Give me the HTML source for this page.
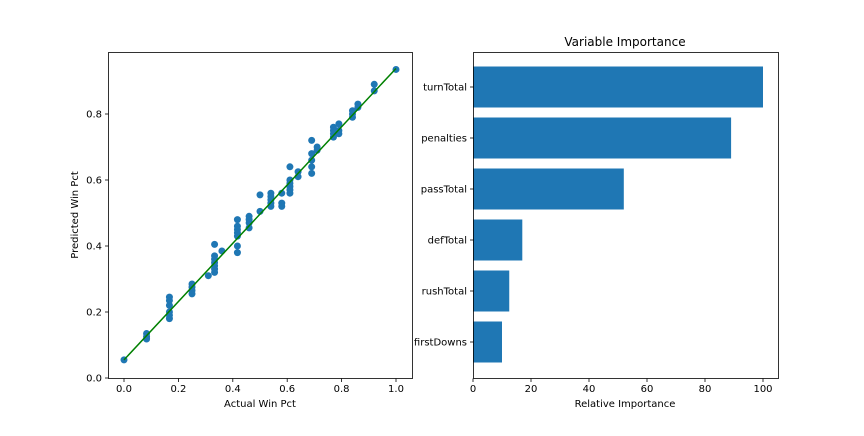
<!DOCTYPE html>
<html><head><meta charset="utf-8"><style>
body{margin:0;background:#fff;font-family:"DejaVu Sans","Liberation Sans",sans-serif;}
svg text{font-family:"DejaVu Sans","Liberation Sans",sans-serif;font-size:10px;fill:#000}
</style></head><body>
<svg id="c" width="864" height="432"></svg>
<script>
const actual=[0,0.083,0.083,0.083,0.167,0.167,0.167,0.167,0.167,0.167,0.25,0.25,0.25,0.25,0.31,0.333,0.333,0.333,0.333,0.333,0.333,0.333,0.36,0.417,0.417,0.417,0.417,0.417,0.417,0.417,0.46,0.46,0.46,0.46,0.5,0.5,0.54,0.54,0.54,0.54,0.54,0.58,0.58,0.58,0.61,0.61,0.61,0.61,0.61,0.61,0.64,0.64,0.69,0.69,0.69,0.69,0.69,0.71,0.71,0.77,0.77,0.77,0.77,0.79,0.79,0.79,0.84,0.84,0.84,0.86,0.86,0.92,0.92,1];
const predicted=[0.055,0.135,0.125,0.118,0.245,0.235,0.22,0.2,0.19,0.18,0.285,0.275,0.265,0.255,0.31,0.405,0.37,0.36,0.35,0.34,0.33,0.32,0.385,0.48,0.46,0.45,0.44,0.43,0.4,0.38,0.49,0.48,0.47,0.455,0.555,0.505,0.56,0.55,0.54,0.53,0.52,0.56,0.53,0.52,0.64,0.6,0.59,0.58,0.57,0.56,0.625,0.61,0.72,0.68,0.66,0.64,0.62,0.7,0.69,0.76,0.75,0.74,0.73,0.77,0.75,0.74,0.81,0.8,0.79,0.83,0.82,0.89,0.87,0.935];
const fitX=[0,1];
const fitY=[0.055,0.938];
const xTicks=[0,0.2,0.4,0.6,0.8,1.0];
const yTicks=[0,0.2,0.4,0.6,0.8];
const features=["turnTotal","penalties","passTotal","defTotal","rushTotal","firstDowns"];
const importance=[100,89,52,17,12.5,10];
const impTicks=[0,20,40,60,80,100];

const svg=document.getElementById('c');const NS="http://www.w3.org/2000/svg";
function mk(t,a,p){const e=document.createElementNS(NS,t);for(const k in a)e.setAttribute(k,a[k]);(p||svg).appendChild(e);return e;}
const L={x0:108,x1:412,y0:52,y1:378};
const sx=v=>124+272*v, sy=v=>378-330*v;
const g1=mk('g',{});


actual.forEach((a,i)=>{const c=mk('circle',{cx:sx(a),cy:sy(predicted[i]),r:3.5,fill:'#1f77b4'},g1);

});
const fl=mk('line',{x1:sx(fitX[0]),y1:sy(fitY[0]),x2:sx(fitX[1]),y2:sy(fitY[1]),stroke:'#008000','stroke-width':1.5},g1);


mk('rect',{x:L.x0+.5,y:L.y0+.5,width:L.x1-L.x0,height:L.y1-L.y0,fill:'none',stroke:'#000','stroke-width':0.8});
xTicks.forEach(v=>{const x=sx(v);mk('line',{x1:x,y1:L.y1+.5,x2:x,y2:L.y1+4,stroke:'#000','stroke-width':.8});
const t=mk('text',{x:x,y:392,'text-anchor':'middle'});t.textContent=v.toFixed(1);

});
yTicks.forEach(v=>{const y=sy(v);mk('line',{x1:L.x0+.5,y1:y,x2:L.x0-3,y2:y,stroke:'#000','stroke-width':.8});
const t=mk('text',{x:L.x0-6,y:y+3.5,'text-anchor':'end'});t.textContent=v.toFixed(1);

});
let t=mk('text',{x:260,y:407,'text-anchor':'middle'});t.textContent='Actual Win Pct';

t=mk('text',{x:78,y:215,'text-anchor':'middle',transform:'rotate(-90 78 215)'});t.textContent='Predicted Win Pct';

const R={x0:473,x1:778,y0:52,y1:378};
const bx=v=>473+2.9*v;
const by=i=>87+51*i;
features.forEach((f,i)=>{const yc=by(i);
const r=mk('rect',{x:R.x0,y:yc-20.5,width:bx(importance[i])-R.x0,height:41,fill:'#1f77b4'});


mk('line',{x1:R.x0+.5,y1:yc,x2:R.x0-3,y2:yc,stroke:'#000','stroke-width':.8});
const tt=mk('text',{x:R.x0-6,y:yc+3.5,'text-anchor':'end'});tt.textContent=f;

});
mk('rect',{x:R.x0+.5,y:R.y0+.5,width:R.x1-R.x0,height:R.y1-R.y0,fill:'none',stroke:'#000','stroke-width':0.8});
impTicks.forEach(v=>{const x=bx(v);mk('line',{x1:x,y1:R.y1+.5,x2:x,y2:R.y1+4,stroke:'#000','stroke-width':.8});
const tt=mk('text',{x:x,y:392,'text-anchor':'middle'});tt.textContent=v;

});
t=mk('text',{x:625,y:407,'text-anchor':'middle'});t.textContent='Relative Importance';

t=mk('text',{x:625,y:46,'text-anchor':'middle'});t.style.fontSize='12px';t.textContent='Variable Importance';

</script>
</body></html>
